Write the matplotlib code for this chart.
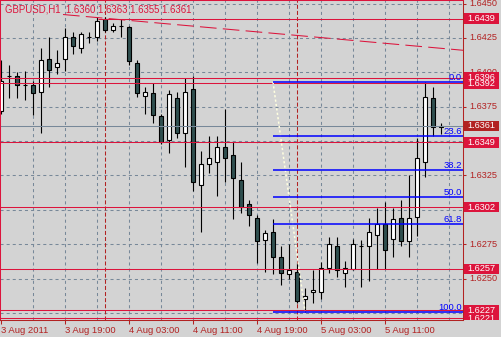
import matplotlib
matplotlib.use("Agg")
import matplotlib.pyplot as plt
from matplotlib.patches import Rectangle

plt.rcParams['font.family'] = ['Liberation Sans', 'DejaVu Sans']
plt.rcParams['lines.scale_dashes'] = False

symbol = "GBPUSD,H1"

# часовые бары, 3 Aug 2011 11:00 ... 5 Aug 2011 18:00
opens = [1.6372, 1.6397, 1.6397, 1.6391, 1.6391, 1.6386, 1.6410, 1.6404, 1.6410, 1.6426,
         1.6418, 1.6426, 1.6426, 1.6439, 1.6431, 1.6434, 1.6433, 1.6407, 1.6383, 1.6385,
         1.6368, 1.6351, 1.6381, 1.6356, 1.6388, 1.6318, 1.6333, 1.6335, 1.6346, 1.6340,
         1.6322, 1.6304, 1.6294, 1.6278, 1.6284, 1.6266, 1.6253, 1.6255, 1.6235, 1.6240,
         1.6240, 1.6258, 1.6274, 1.6254, 1.6257, 1.6274, 1.6274, 1.6282, 1.6290, 1.6279,
         1.6294, 1.6277, 1.6295, 1.6335, 1.6381, 1.6360]
highs = [1.6409, 1.6405, 1.6400, 1.6401, 1.6394, 1.6418, 1.6426, 1.6416, 1.6432, 1.6429,
         1.6429, 1.6429, 1.6440, 1.6440, 1.6436, 1.6439, 1.6434, 1.6409, 1.6389, 1.6392,
         1.6370, 1.6387, 1.6386, 1.6396, 1.6397, 1.6343, 1.6354, 1.6354, 1.6373, 1.6349,
         1.6335, 1.6307, 1.6296, 1.6285, 1.6293, 1.6274, 1.6275, 1.6261, 1.6243, 1.6256,
         1.6262, 1.6280, 1.6280, 1.6263, 1.6279, 1.6278, 1.6294, 1.6301, 1.6306, 1.6301,
         1.6307, 1.6325, 1.6352, 1.6393, 1.6389, 1.6363]
lows = [1.6370, 1.6381, 1.6381, 1.6380, 1.6369, 1.6356, 1.6389, 1.6399, 1.6401, 1.6413,
        1.6414, 1.6421, 1.6423, 1.6429, 1.6429, 1.6426, 1.6405, 1.6382, 1.6370, 1.6363,
        1.6348, 1.6341, 1.6352, 1.6331, 1.6314, 1.6284, 1.6327, 1.6310, 1.6320, 1.6293,
        1.6298, 1.6288, 1.6261, 1.6255, 1.6253, 1.6245, 1.6250, 1.6232, 1.6226, 1.6232,
        1.6235, 1.6254, 1.6251, 1.6244, 1.6256, 1.6244, 1.6248, 1.6257, 1.6257, 1.6266,
        1.6274, 1.6266, 1.6281, 1.6324, 1.6354, 1.6355]
closes = [1.6394, 1.6397, 1.6391, 1.6391, 1.6385, 1.6409, 1.6402, 1.6407, 1.6426, 1.6419,
          1.6428, 1.6426, 1.6437, 1.6431, 1.6434, 1.6434, 1.6408, 1.6385, 1.6386, 1.6369,
          1.6349, 1.6384, 1.6356, 1.6386, 1.6320, 1.6333, 1.6338, 1.6346, 1.6338, 1.6323,
          1.6302, 1.6296, 1.6277, 1.6283, 1.6266, 1.6254, 1.6256, 1.6234, 1.6237, 1.6242,
          1.6258, 1.6275, 1.6256, 1.6258, 1.6275, 1.6274, 1.6284, 1.6290, 1.6271, 1.6293,
          1.6277, 1.6294, 1.6338, 1.6382, 1.6360, 1.6361]

time_ticks = [0, 8, 16, 24, 32, 40, 48]
time_labels = ["3 Aug 2011", "3 Aug 19:00", "4 Aug 03:00", "4 Aug 11:00",
               "4 Aug 19:00", "5 Aug 03:00", "5 Aug 11:00"]
day_separators = [13, 37]

price_ticks = [1.6225, 1.6250, 1.6275, 1.6300, 1.6325, 1.6350, 1.6375, 1.6400, 1.6425, 1.6450]
grid_bars = [4, 8, 12, 16, 20, 24, 28, 32, 36, 40, 44, 48, 52, 56]

# горизонтальные линии (порядок = порядок отрисовки меток)
red_levels = [1.6439, 1.6392, 1.6396, 1.6349, 1.6302, 1.6257, 1.6221, 1.6227]
top_level_start = 12.1
bid = 1.6361

trend_bars = [7.75, 57.75]
trend_prices = [1.6442, 1.6416]

fib_bars = [34, 38]
fib_prices = [1.6393, 1.6226]
fib_levels = [0.0, 23.6, 38.2, 50.0, 61.8, 100.0]

BG = '#D3D3D3'
GRID = '#778899'
RED = '#DC143C'
DARKRED = '#B22222'
BEAR = '#2F4F4F'

W, H = 502, 337
px = 0.0000727  # цена на пиксель
y_top = 1.6450 + 3.5 * px
y_bot = 1.6450 - 316.5 * px

fig = plt.figure(figsize=(W / 100, H / 100), dpi=100, facecolor=BG)
ax = fig.add_axes([0, 17 / H, 463 / W, 320 / H], facecolor=BG)
ax.set_xlim(-0.125, 57.75)
ax.set_ylim(y_bot, y_top)

# сетка
for p in price_ticks:
    ax.axhline(p, color=GRID, lw=0.75, dashes=(2.2, 2.2), zorder=1)
for b in grid_bars:
    ax.axvline(b, color=GRID, lw=0.75, dashes=(2.2, 2.2), zorder=1)
for b in day_separators:
    ax.axvline(b, color=DARKRED, lw=0.75, dashes=(2.9, 1.5), zorder=1)

# свечи
n = len(opens)
bw = 0.5
for i in range(n):
    ax.vlines(i, lows[i], highs[i], color='black', lw=0.8, zorder=3)
    o, c = opens[i], closes[i]
    face = 'white' if c >= o else BEAR
    ax.add_patch(Rectangle((i - bw / 2, min(o, c)), bw, abs(c - o),
                           facecolor=face, edgecolor='black', lw=0.8, zorder=4))

# объекты
ax.axhline(bid, color=GRID, lw=0.75, zorder=5)
for p in red_levels:
    if p == 1.6439:
        ax.hlines(p, top_level_start, 57.75, color=RED, lw=0.75, zorder=5)
    else:
        ax.axhline(p, color=RED, lw=0.75, zorder=5)
ax.plot(trend_bars, trend_prices, color=RED, lw=0.75, dashes=(12, 4.5), zorder=5)

ax.plot(fib_bars, fib_prices, color='#FFFFE0', lw=1.1, dashes=(1.6, 1.6), zorder=5)
for lv in fib_levels:
    p = fib_prices[0] + (fib_prices[1] - fib_prices[0]) * lv / 100
    ax.hlines(p, fib_bars[0], 57.75, color='#0000FF', lw=1.1, zorder=6)
    ax.text(57.6, p + 2 * px, f"{lv:.1f}", color='#0000FF', fontsize=6.8,
            ha='right', va='baseline', zorder=7)

# рамка
ax.spines['top'].set_color(RED)
ax.spines['left'].set_color(RED)
ax.spines['right'].set_color(DARKRED)
ax.spines['bottom'].set_color(DARKRED)
for s in ax.spines.values():
    s.set_linewidth(0.75)
    s.set_zorder(8)

ax.set_yticks([])
ax.set_xticks(time_ticks)
ax.set_xticklabels(time_labels)
ax.tick_params(axis='x', direction='out', length=3, width=0.75, color=DARKRED,
               labelcolor=DARKRED, labelsize=6.8, pad=1.5)
for lab in ax.get_xticklabels():
    lab.set_horizontalalignment('left')

# ценовая шкала
ax2 = fig.add_axes([463 / W, 17 / H, 39 / W, 320 / H])
ax2.set_xlim(463, 502)
ax2.set_ylim(y_bot, y_top)
ax2.axis('off')
ax2.hlines(price_ticks, 463, 466, color=DARKRED, lw=0.75, clip_on=False)

boxes = red_levels[:3] + [bid] + red_levels[3:]
for p in price_ticks:
    # метки, полностью закрытые плашками, не видны
    if min(abs(p - b) for b in boxes) < 3 * px:
        continue
    ax2.text(469.5, p, f"{p:.4f}", color=DARKRED, fontsize=6.6, va='center',
             ha='left', clip_on=False)

for p in boxes:
    col = DARKRED if p == bid else RED
    ax2.add_patch(Rectangle((464.5, p - 5.4 * px), 34.5, 10.8 * px,
                            facecolor=col, edgecolor='none', zorder=5))
    ax2.text(481.7, p, f"{p:.4f}", color='white', fontsize=6.6, va='center',
             ha='center', zorder=6, clip_on=True)

fig.text(5 / W, 1 - 9.5 / H,
         f"{symbol}  {opens[-1]:.4f} {highs[-1]:.4f} {lows[-1]:.4f} {closes[-1]:.4f}",
         color=RED, fontsize=6.9, va='center', ha='left')

fig.savefig("out.png", dpi=100, facecolor=BG)
